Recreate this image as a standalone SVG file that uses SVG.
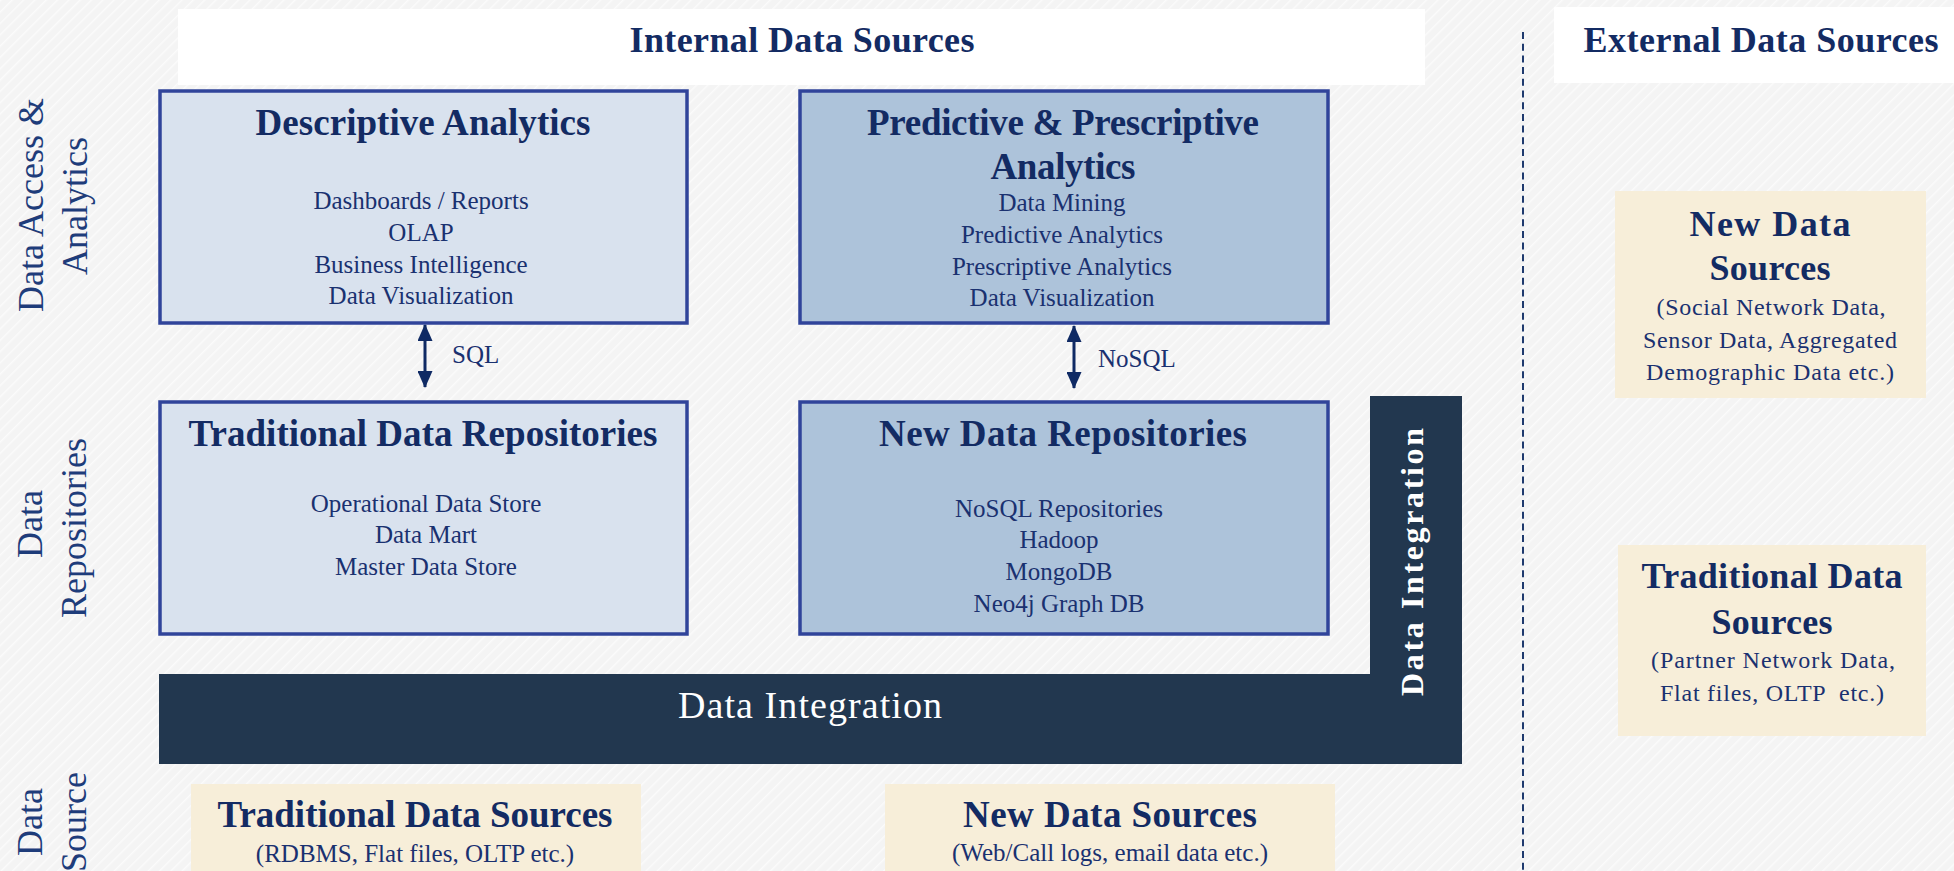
<svg xmlns="http://www.w3.org/2000/svg" width="1954" height="871" viewBox="0 0 1954 871">
<style>
text{font-family:"Liberation Serif","Times New Roman",serif;}
.hdr{font-size:36px;font-weight:bold;fill:#132b63;text-anchor:middle;}
.ttl{font-size:37px;font-weight:bold;fill:#132b63;text-anchor:middle;}
.ttx{font-size:36px;font-weight:bold;fill:#132b63;text-anchor:middle;}
.itm{font-size:25px;fill:#1a3170;text-anchor:middle;}
.sub{font-size:24px;fill:#1a3170;text-anchor:middle;}
.lbl{font-size:36px;fill:#1e3c7a;text-anchor:middle;}
.conn{font-size:25px;fill:#1a3170;}
.box{stroke:#30449a;stroke-width:3.5;}
.light{fill:#d9e2ee;}
.mid{fill:#adc3da;}
.beige{fill:#f7eed9;}
.white{fill:#ffffff;}
.di{fill:#22374f;}
.ditxt{fill:#ffffff;text-anchor:middle;}
</style>
<defs>
<pattern id="bgp" width="8" height="8" patternUnits="userSpaceOnUse" patternTransform="rotate(45)">
<rect width="8" height="8" fill="#f4f4f4"/>
<line x1="0" y1="0" x2="0" y2="8" stroke="#fbfbfb" stroke-width="3"/>
</pattern>
<marker id="ah" viewBox="0 0 17 15" refX="16" refY="7.5" markerWidth="17" markerHeight="15" markerUnits="userSpaceOnUse" orient="auto-start-reverse">
<path d="M0,0 L17,7.5 L0,15 Z" fill="#0f2a64"/>
</marker>
</defs>
<rect x="0" y="0" width="1954" height="871" fill="url(#bgp)"/>

<g id="header-internal">
<rect class="white" x="178" y="9" width="1247" height="76"/>
<text class="hdr" x="802" y="52" textLength="345">Internal Data Sources</text>
</g>
<g id="header-external">
<rect class="white" x="1554" y="7" width="400" height="76"/>
<text class="hdr" x="1761" y="52" textLength="355">External Data Sources</text>
</g>

<g id="separator">
<line x1="1523" y1="32" x2="1523" y2="871" stroke="#1f3a6e" stroke-width="2" stroke-dasharray="7 4.7"/>
</g>

<g id="label-analytics">
<text class="lbl" transform="translate(43,205) rotate(-90)">Data Access &amp;</text>
<text class="lbl" transform="translate(87,206) rotate(-90)">Analytics</text>
</g>
<g id="label-repositories">
<text class="lbl" transform="translate(42,524) rotate(-90)">Data</text>
<text class="lbl" transform="translate(86,528) rotate(-90)">Repositories</text>
</g>
<g id="label-source">
<text class="lbl" transform="translate(42,822) rotate(-90)">Data</text>
<text class="lbl" transform="translate(86,822) rotate(-90)">Source</text>
</g>

<g id="descriptive-analytics">
<rect class="box light" x="160" y="91" width="527" height="232"/>
<text class="ttl" x="423" y="135" textLength="335">Descriptive Analytics</text>
<text class="itm" x="421" y="209">Dashboards / Reports</text>
<text class="itm" x="421" y="241">OLAP</text>
<text class="itm" x="421" y="273">Business Intelligence</text>
<text class="itm" x="421" y="304">Data Visualization</text>
</g>

<g id="predictive-analytics">
<rect class="box mid" x="800" y="91" width="528" height="232"/>
<text class="ttl" x="1063" y="135" textLength="392">Predictive &amp; Prescriptive</text>
<text class="ttl" x="1063" y="179" textLength="145">Analytics</text>
<text class="itm" x="1062" y="211">Data Mining</text>
<text class="itm" x="1062" y="243">Predictive Analytics</text>
<text class="itm" x="1062" y="275">Prescriptive Analytics</text>
<text class="itm" x="1062" y="306">Data Visualization</text>
</g>

<g id="traditional-repositories">
<rect class="box light" x="160" y="402" width="527" height="232"/>
<text class="ttl" x="423" y="446" textLength="469">Traditional Data Repositories</text>
<text class="itm" x="426" y="512">Operational Data Store</text>
<text class="itm" x="426" y="543">Data Mart</text>
<text class="itm" x="426" y="575">Master Data Store</text>
</g>

<g id="new-repositories">
<rect class="box mid" x="800" y="402" width="528" height="232"/>
<text class="ttl" x="1063" y="446" textLength="368">New Data Repositories</text>
<text class="itm" x="1059" y="517">NoSQL Repositories</text>
<text class="itm" x="1059" y="548">Hadoop</text>
<text class="itm" x="1059" y="580">MongoDB</text>
<text class="itm" x="1059" y="612">Neo4j Graph DB</text>
</g>

<g id="data-integration">
<path class="di" d="M159,674 H1370 V396 H1462 V764 H159 Z"/>
<text class="ditxt" x="810" y="718" font-size="38" textLength="264">Data Integration</text>
<text class="ditxt" transform="translate(1423,562) rotate(-90)" font-size="32" font-weight="bold" textLength="268">Data Integration</text>
</g>

<g id="traditional-sources">
<rect class="beige" x="191" y="784" width="450" height="95"/>
<text class="ttl" x="415" y="827" textLength="395">Traditional Data Sources</text>
<text class="itm" x="415" y="862">(RDBMS, Flat files, OLTP etc.)</text>
</g>

<g id="new-sources">
<rect class="beige" x="885" y="784" width="450" height="95"/>
<text class="ttl" x="1110" y="827" textLength="294">New Data Sources</text>
<text class="itm" x="1110" y="861">(Web/Call logs, email data etc.)</text>
</g>

<g id="ext-new-sources">
<rect class="beige" x="1615" y="191" width="311" height="207"/>
<text class="ttx" x="1770" y="236" textLength="161">New Data</text>
<text class="ttx" x="1770" y="280" textLength="121">Sources</text>
<text class="sub" x="1771" y="315" textLength="229">(Social Network Data,</text>
<text class="sub" x="1770" y="348" textLength="254">Sensor Data, Aggregated</text>
<text class="sub" x="1770" y="380" textLength="248">Demographic Data etc.)</text>
</g>

<g id="ext-traditional-sources">
<rect class="beige" x="1618" y="545" width="308" height="191"/>
<text class="ttx" x="1772" y="588" textLength="261">Traditional Data</text>
<text class="ttx" x="1772" y="634" textLength="121">Sources</text>
<text class="sub" x="1773" y="668" textLength="244">(Partner Network Data,</text>
<text class="sub" x="1772" y="701" textLength="224" xml:space="preserve">Flat files, OLTP  etc.)</text>
</g>

<g id="connectors">
<line x1="425" y1="325" x2="425" y2="387" stroke="#0f2a64" stroke-width="3" marker-start="url(#ah)" marker-end="url(#ah)"/>
<text class="conn" x="452" y="363">SQL</text>
<line x1="1074" y1="326" x2="1074" y2="388" stroke="#0f2a64" stroke-width="3" marker-start="url(#ah)" marker-end="url(#ah)"/>
<text class="conn" x="1098" y="367">NoSQL</text>
</g>
</svg>
